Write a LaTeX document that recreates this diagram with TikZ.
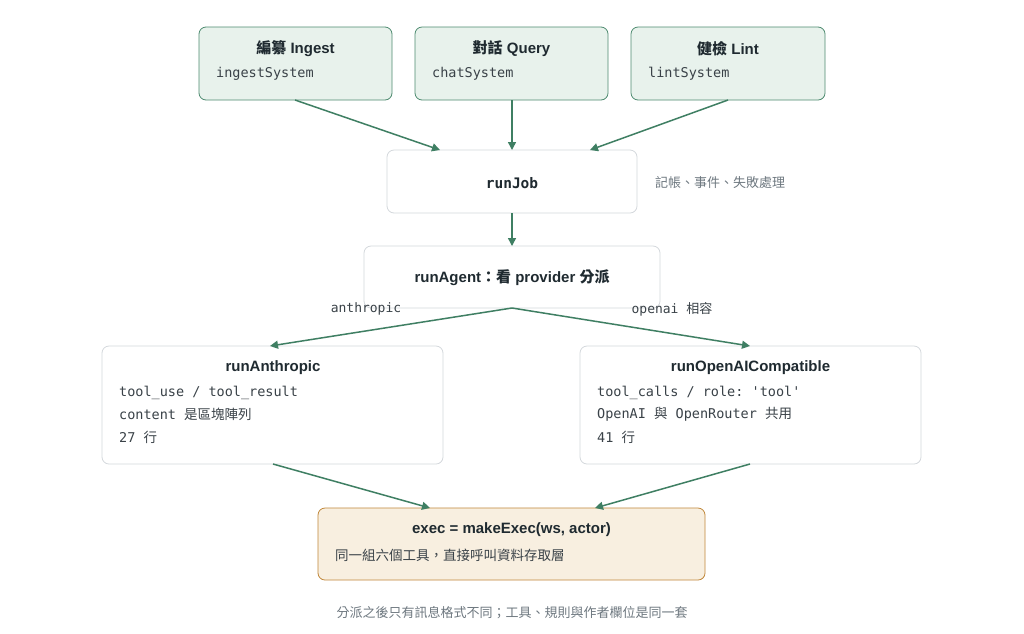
\documentclass[tikz,border=0pt]{standalone}
\usepackage{fontspec}
\setmainfont{Liberation Sans}
\setmonofont{DejaVu Sans Mono}
\newfontfamily\cjk{Noto Sans CJK TC}
\newcommand{\cj}[1]{{\cjk #1}}
\usetikzlibrary{arrows.meta}
\definecolor{gfill}{HTML}{E8F2EC}
\definecolor{gline}{HTML}{4E8B70}
\definecolor{arr}{HTML}{3F7F63}
\definecolor{bline}{HTML}{D4D8DC}
\definecolor{ofill}{HTML}{F8EFE0}
\definecolor{oline}{HTML}{C0873A}
\definecolor{txt}{HTML}{1F2A30}
\definecolor{mono}{HTML}{3A4248}
\definecolor{gray}{HTML}{6E7880}
\begin{document}
\begin{tikzpicture}[x=1pt,y=-1pt,
 box/.style={draw=bline,fill=white,rounded corners=7pt,line width=0.8pt},
 gbox/.style={draw=gline,fill=gfill,rounded corners=7pt,line width=0.8pt},
 obox/.style={draw=oline,fill=ofill,rounded corners=7pt,line width=0.8pt},
 ttl/.style={font=\fontsize{15}{18}\selectfont\bfseries,text=txt,inner sep=0},
 mn/.style={font=\fontsize{13.5}{16}\ttfamily,text=mono,inner sep=0,anchor=west},
 note/.style={font=\fontsize{13}{15}\selectfont,text=gray,inner sep=0},
 ar/.style={draw=arr,line width=1.5pt,-{Triangle[length=8pt,width=8pt]}}]
\useasboundingbox[fill=white] (0,0) rectangle (1024,633);
\draw[gbox] (199,27) rectangle (392,100);
\draw[gbox] (415,27) rectangle (608,100);
\draw[gbox] (631,27) rectangle (825,100);
\node[ttl] (t1) at (295.5,49) {\cj{編纂} Ingest};
\node[mn] (m1) at (216,74) {ingestSystem};
\node[ttl] (t2) at (511.5,49) {\cj{對話} Query};
\node[mn] (m2) at (432,74) {chatSystem};
\node[ttl] (t3) at (728,49) {\cj{健檢} Lint};
\node[mn] (m3) at (648,74) {lintSystem};
\draw[box] (387,150) rectangle (637,213);
\node[inner sep=0,font=\fontsize{14.5}{17}\ttfamily\bfseries,text=txt] (rj) at (512,183) {runJob};
\node[note,anchor=west] (side) at (655,183) {\cj{記帳、事件、失敗處理}};
\draw[box] (364,246) rectangle (660,308);
\node[ttl] (ra) at (512,278) {runAgent\cj{：看} provider \cj{分派}};
\node[inner sep=0,font=\fontsize{13}{15}\ttfamily,text=mono] (la) at (366,309) {anthropic};
\node[inner sep=0,font=\fontsize{13}{15}\ttfamily,text=mono] (lb) at (672,309) {openai \cj{相容}};
\draw[box] (102,346) rectangle (443,464);
\node[ttl] (an) at (273,368) {runAnthropic};
\node[mn] (a1) at (119,393) {tool\_use / tool\_result};
\node[mn] (a2) at (119,414) {content \cj{是區塊陣列}};
\node[mn] (a3) at (119,437) {27 \cj{行}};
\draw[box] (580,346) rectangle (921,464);
\node[ttl] (op) at (750.5,368) {runOpenAICompatible};
\node[mn] (o1) at (597,393) {tool\_calls / role: 'tool'};
\node[mn] (o2) at (597,414) {OpenAI \cj{與} OpenRouter \cj{共用}};
\node[mn] (o3) at (597,437) {41 \cj{行}};
\draw[obox] (318,508) rectangle (705,580);
\node[ttl] (ex) at (511.5,530) {exec = makeExec(ws, actor)};
\node[inner sep=0,anchor=west,font=\fontsize{13.5}{16}\selectfont,text=mono] (es) at (335,555) {\cj{同一組六個工具，直接呼叫資料存取層}};
\node[note] (bt) at (512,613) {\cj{分派之後只有訊息格式不同；工具、規則與作者欄位是同一套}};
\coordinate (i1) at (295,100); \coordinate (j1) at (440,150);
\coordinate (i2) at (512,100); \coordinate (j2) at (512,150);
\coordinate (i3) at (728,100); \coordinate (j3) at (590,150);
\coordinate (jb) at (512,213); \coordinate (at) at (512,246);
\coordinate (ab) at (512,308); \coordinate (ant) at (270,346); \coordinate (opt) at (750,346);
\coordinate (anb) at (273,464); \coordinate (ex1) at (430,508);
\coordinate (opb) at (750,464); \coordinate (ex2) at (595,508);
\draw[ar] (i1) -- (j1);
\draw[ar] (i2) -- (j2);
\draw[ar] (i3) -- (j3);
\draw[ar] (jb) -- (at);
\draw[ar] (ab) -- (ant);
\draw[ar] (ab) -- (opt);
\draw[ar] (anb) -- (ex1);
\draw[ar] (opb) -- (ex2);
\end{tikzpicture}
\end{document}
